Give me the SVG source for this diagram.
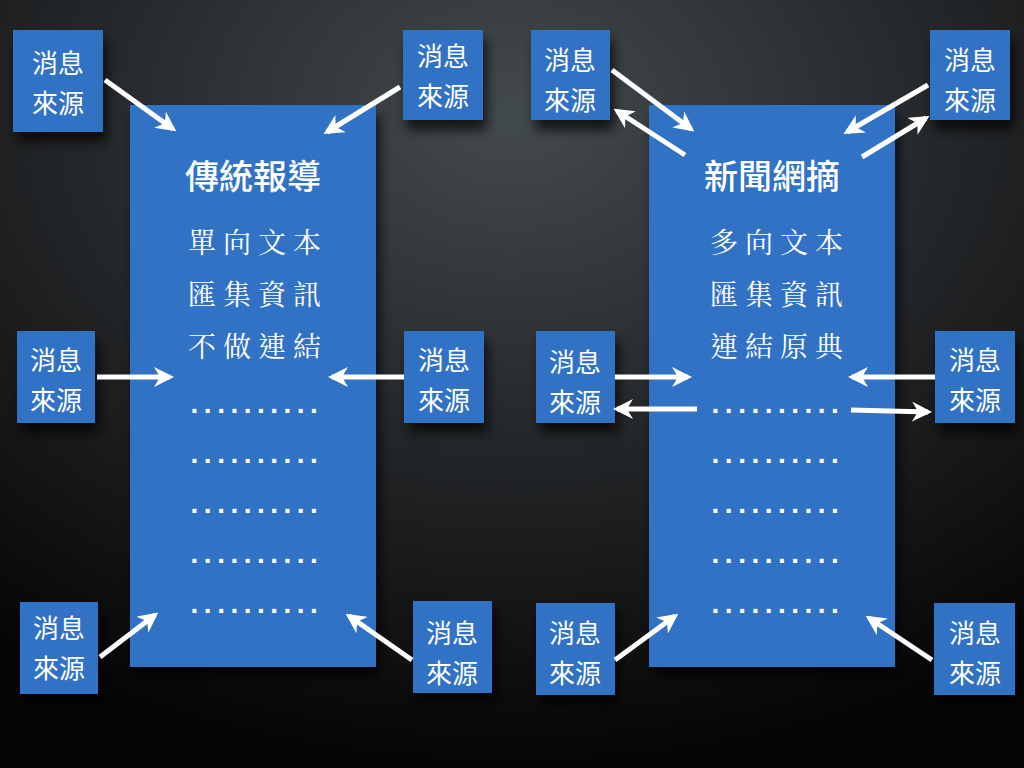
<svg xmlns="http://www.w3.org/2000/svg" width="1024" height="768" viewBox="0 0 1024 768">
<defs>
<radialGradient id="bg" cx="50%" cy="15%" r="85%">
<stop offset="0" stop-color="#434a4d"/><stop offset="0.6" stop-color="#1e2022"/><stop offset="1" stop-color="#050505"/>
</radialGradient>
<marker id="ah" viewBox="0 0 10 10" refX="8" refY="5" markerWidth="4" markerHeight="4" orient="auto" markerUnits="strokeWidth">
<path d="M0,0 L10,5 L0,10 L3,5 z" fill="#fff"/>
</marker>
<filter id="sh" x="-20%" y="-20%" width="150%" height="150%"><feDropShadow dx="4" dy="10" stdDeviation="6" flood-color="#000" flood-opacity="0.7"/></filter>
</defs>
<style>
.b{fill:#3172c4;filter:url(#sh)}
.s{font-family:"Noto Sans CJK TC","Noto Sans CJK SC",sans-serif;font-size:26px;fill:#fff;text-anchor:middle}
.t{font-family:"Noto Sans CJK TC","Noto Sans CJK SC",sans-serif;font-size:34px;font-weight:500;fill:#fff;text-anchor:middle}
.l{font-family:"Noto Serif CJK TC","Noto Sans CJK TC",serif;font-size:28px;fill:#fff;text-anchor:middle;letter-spacing:7px}
.d{font-family:"Liberation Sans",sans-serif;font-size:28px;font-weight:bold;fill:#fff;text-anchor:middle;letter-spacing:5.5px}
.a{stroke:#fff;stroke-width:5;fill:none;marker-end:url(#ah)}
</style>
<rect width="1024" height="768" fill="url(#bg)"/>
<g id="panelL"><rect class="b" x="130" y="105" width="246" height="562"/>
<text class="t" x="253" y="189">傳統報導</text>
<text class="l" x="258" y="253">單向文本</text><text class="l" x="258" y="305">匯集資訊</text><text class="l" x="258" y="357">不做連結</text>
<text class="d" x="257" y="413">..........</text><text class="d" x="257" y="463">..........</text><text class="d" x="257" y="513">..........</text><text class="d" x="257" y="563">..........</text><text class="d" x="257" y="613">..........</text></g>
<g id="panelR"><rect class="b" x="649" y="105" width="246" height="562"/>
<text class="t" x="772" y="189">新聞網摘</text>
<text class="l" x="780" y="253">多向文本</text><text class="l" x="780" y="305">匯集資訊</text><text class="l" x="780" y="357">連結原典</text>
<text class="d" x="778" y="413">..........</text><text class="d" x="778" y="463">..........</text><text class="d" x="778" y="513">..........</text><text class="d" x="778" y="563">..........</text><text class="d" x="778" y="613">..........</text></g>
<g id="src1"><rect class="b" x="13" y="30" width="90" height="102"/><text class="s" x="58" y="73">消息</text><text class="s" x="58" y="113">來源</text></g>
<g id="src2"><rect class="b" x="403" y="30" width="80" height="90"/><text class="s" x="443" y="66">消息</text><text class="s" x="443" y="106">來源</text></g>
<g id="src3"><rect class="b" x="17" y="331" width="78" height="92"/><text class="s" x="56" y="370">消息</text><text class="s" x="56" y="410">來源</text></g>
<g id="src4"><rect class="b" x="404" y="331" width="80" height="92"/><text class="s" x="444" y="370">消息</text><text class="s" x="444" y="410">來源</text></g>
<g id="src5"><rect class="b" x="20" y="602" width="78" height="92"/><text class="s" x="59" y="638">消息</text><text class="s" x="59" y="678">來源</text></g>
<g id="src6"><rect class="b" x="413" y="601" width="79" height="92"/><text class="s" x="452" y="643">消息</text><text class="s" x="452" y="683">來源</text></g>
<g id="src7"><rect class="b" x="531" y="30" width="79" height="90"/><text class="s" x="570" y="70">消息</text><text class="s" x="570" y="110">來源</text></g>
<g id="src8"><rect class="b" x="930" y="30" width="80" height="90"/><text class="s" x="970" y="70">消息</text><text class="s" x="970" y="110">來源</text></g>
<g id="src9"><rect class="b" x="536" y="331" width="79" height="92"/><text class="s" x="575" y="372">消息</text><text class="s" x="575" y="412">來源</text></g>
<g id="src10"><rect class="b" x="935" y="331" width="80" height="92"/><text class="s" x="975" y="370">消息</text><text class="s" x="975" y="410">來源</text></g>
<g id="src11"><rect class="b" x="536" y="603" width="79" height="92"/><text class="s" x="575" y="643">消息</text><text class="s" x="575" y="683">來源</text></g>
<g id="src12"><rect class="b" x="934" y="603" width="81" height="92"/><text class="s" x="975" y="643">消息</text><text class="s" x="975" y="683">來源</text></g>
<g id="connectors">
<line class="a" x1="105" y1="80" x2="173" y2="129"/>
<line class="a" x1="400" y1="87" x2="327" y2="132"/>
<line class="a" x1="97" y1="377" x2="170" y2="377"/>
<line class="a" x1="404" y1="377" x2="332" y2="377"/>
<line class="a" x1="100" y1="657" x2="155" y2="615"/>
<line class="a" x1="412" y1="660" x2="349" y2="616"/>
<line class="a" x1="612" y1="70" x2="691" y2="129"/>
<line class="a" x1="685" y1="155" x2="617" y2="111"/>
<line class="a" x1="928" y1="85" x2="847" y2="132"/>
<line class="a" x1="862" y1="157" x2="926" y2="118"/>
<line class="a" x1="615" y1="377" x2="688" y2="377"/>
<line class="a" x1="697" y1="409" x2="617" y2="409"/>
<line class="a" x1="935" y1="377" x2="852" y2="377"/>
<line class="a" x1="851" y1="410" x2="928" y2="412"/>
<line class="a" x1="615" y1="660" x2="675" y2="616"/>
<line class="a" x1="932" y1="660" x2="869" y2="618"/>
</g>
</svg>
